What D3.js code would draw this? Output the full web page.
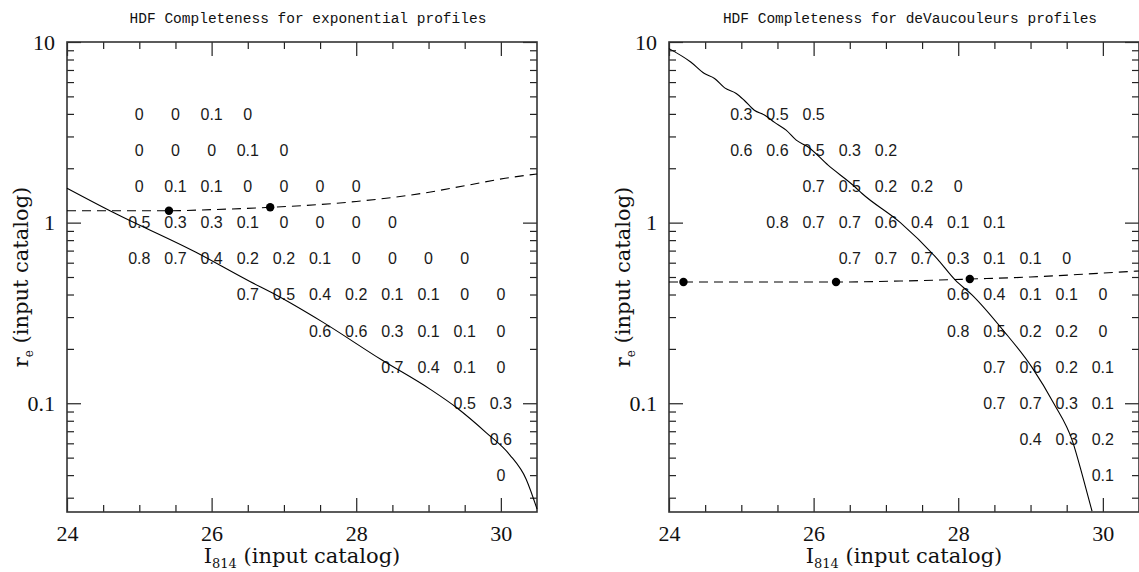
<!DOCTYPE html>
<html>
<head>
<meta charset="utf-8">
<script src="https://cdn.jsdelivr.net/npm/d3@7"></script>
<style>
  body { margin: 0; background: #fff; }
  svg { display: block; }
</style>
</head>
<body>
<div id="viz"></div>
<script>
// ---- data ----
// rows of the completeness grid, log10(r_e)
const logRadiusRows = [0.6, 0.4, 0.2, 0, -0.2, -0.4, -0.6, -0.8, -1.0, -1.2, -1.4];

// exponential profiles: first I814 column of each row, then the fractions
const expRowStart = [25, 25, 25, 25, 25, 26.5, 27.5, 28.5, 29.5, 30, 30];
const expValues = [
  [0, 0, 0.1, 0],
  [0, 0, 0, 0.1, 0],
  [0, 0.1, 0.1, 0, 0, 0, 0],
  [0.5, 0.3, 0.3, 0.1, 0, 0, 0, 0],
  [0.8, 0.7, 0.4, 0.2, 0.2, 0.1, 0, 0, 0, 0],
  [0.7, 0.5, 0.4, 0.2, 0.1, 0.1, 0, 0],
  [0.6, 0.6, 0.3, 0.1, 0.1, 0],
  [0.7, 0.4, 0.1, 0],
  [0.5, 0.3],
  [0.6],
  [0]
];

// deVaucouleurs profiles
const devRowStart = [25, 25, 26, 25.5, 26.5, 28, 28, 28.5, 28.5, 29, 30];
const devValues = [
  [0.3, 0.5, 0.5],
  [0.6, 0.6, 0.5, 0.3, 0.2],
  [0.7, 0.5, 0.2, 0.2, 0],
  [0.8, 0.7, 0.7, 0.6, 0.4, 0.1, 0.1],
  [0.7, 0.7, 0.7, 0.3, 0.1, 0.1, 0],
  [0.6, 0.4, 0.1, 0.1, 0],
  [0.8, 0.5, 0.2, 0.2, 0],
  [0.7, 0.6, 0.2, 0.1],
  [0.7, 0.7, 0.3, 0.1],
  [0.4, 0.3, 0.2],
  [0.1]
];

// solid curves [I814, r_e]
const expLimitCurve = [
  [24, 1.55], [24.6, 1.16], [25.77, 0.69], [26.53, 0.472], [26.88, 0.40],
  [27.52, 0.284], [28.35, 0.174], [29.03, 0.119], [29.39, 0.0944],
  [29.8, 0.0686], [30.12, 0.052], [30.35, 0.038], [30.5, 0.026]
];
const devLimitCurve = [
  [24, 9.19], [24.30, 7.75], [24.49, 6.69], [24.63, 6.28], [24.77, 5.57],
  [24.93, 5.19], [25.04, 4.76], [25.18, 4.19], [25.32, 3.94], [25.46, 3.59],
  [25.62, 3.25], [25.76, 2.86], [25.92, 2.63], [26.2, 2.08], [26.57, 1.58],
  [26.67, 1.45], [27.2, 1.0], [27.71, 0.63], [27.96, 0.48], [28.19, 0.398],
  [28.63, 0.251], [29.02, 0.158], [29.32, 0.1], [29.58, 0.0617],
  [29.72, 0.0395], [29.85, 0.0253]
];

// dashed curves and their dots
const expSizeCurve = [
  [24, 1.164], [25.41, 1.164], [26, 1.18], [26.81, 1.216], [27.5, 1.26],
  [28, 1.31], [28.9, 1.45], [29.5, 1.6], [30.06, 1.76], [30.5, 1.86]
];
const expSizePoints = [[25.41, 1.164], [26.81, 1.216]];
const devSizeCurve = [
  [24, 0.469], [24.2, 0.469], [26.31, 0.469], [27.2, 0.475], [28.16, 0.487],
  [29, 0.50], [29.8, 0.52], [30.5, 0.54]
];
const devSizePoints = [[24.2, 0.469], [26.31, 0.469], [28.16, 0.487]];

// ticks
const xMajorTicks = [24, 26, 28, 30];
const xMinorTicks = [24.5, 25, 25.5, 26.5, 27, 27.5, 28.5, 29, 29.5];
const yMajorTicks = [0.1, 1, 10];
const yMinorTicks = [0.03, 0.04, 0.05, 0.06, 0.07, 0.08, 0.09,
  0.2, 0.3, 0.4, 0.5, 0.6, 0.7, 0.8, 0.9,
  2, 3, 4, 5, 6, 7, 8, 9];

const titles = [
  'HDF Completeness for exponential profiles',
  'HDF Completeness for deVaucouleurs profiles'
];

// ---- layout ----
const config = {
  fullWidth: 1139,
  fullHeight: 572,
  top: 42,
  width: 470,
  height: 470,
  panelLefts: [67, 669]
};

const svg = d3.select('#viz').append('svg')
  .attr('width', config.fullWidth)
  .attr('height', config.fullHeight);

const x = d3.scaleLinear().domain([24, 30.5]).range([0, config.width]);
const y = d3.scaleLog().domain([0.025, 10]).range([config.height, 0]);

function styleAxis(sel) {
  sel.select('.domain').remove();
  sel.selectAll('line').attr('stroke', '#222').attr('stroke-width', 1.2);
  sel.selectAll('text')
    .attr('fill', '#111')
    .style('font-family', '"Liberation Serif", "Times New Roman", serif')
    .style('font-size', '22px');
}

function drawPanel(left, title, rowStart, values, limitCurve, sizeCurve, sizePoints) {
  const g = svg.append('g')
    .attr('transform', `translate(${left}, ${config.top})`);

  // axes: major + minor, ticks pointing inwards on all four sides
  g.append('g').attr('transform', `translate(0, ${config.height})`)
    .call(d3.axisBottom(x).tickValues(xMajorTicks).tickSize(-14).tickSizeOuter(0)
      .tickPadding(13).tickFormat(d3.format('d')))
    .call(styleAxis);
  g.append('g').attr('transform', `translate(0, ${config.height})`)
    .call(d3.axisBottom(x).tickValues(xMinorTicks).tickSize(-7).tickSizeOuter(0).tickFormat(''))
    .call(styleAxis);
  g.append('g')
    .call(d3.axisTop(x).tickValues(xMajorTicks).tickSize(-14).tickSizeOuter(0).tickFormat(''))
    .call(styleAxis);
  g.append('g')
    .call(d3.axisTop(x).tickValues(xMinorTicks).tickSize(-7).tickSizeOuter(0).tickFormat(''))
    .call(styleAxis);

  g.append('g')
    .call(d3.axisLeft(y).tickValues(yMajorTicks).tickSize(-14).tickSizeOuter(0)
      .tickPadding(12).tickFormat(d => String(d)))
    .call(styleAxis);
  g.append('g')
    .call(d3.axisLeft(y).tickValues(yMinorTicks).tickSize(-7).tickSizeOuter(0).tickFormat(''))
    .call(styleAxis);
  g.append('g').attr('transform', `translate(${config.width}, 0)`)
    .call(d3.axisRight(y).tickValues(yMajorTicks).tickSize(-14).tickSizeOuter(0).tickFormat(''))
    .call(styleAxis);
  g.append('g').attr('transform', `translate(${config.width}, 0)`)
    .call(d3.axisRight(y).tickValues(yMinorTicks).tickSize(-7).tickSizeOuter(0).tickFormat(''))
    .call(styleAxis);

  // frame
  g.append('rect')
    .attr('width', config.width)
    .attr('height', config.height)
    .attr('fill', 'none')
    .attr('stroke', '#333')
    .attr('stroke-width', 1.6);

  // completeness grid
  const cells = d3.merge(values.map((row, i) =>
    row.map((v, j) => ({ mag: rowStart[i] + 0.5 * j, r: Math.pow(10, logRadiusRows[i]), v }))));

  g.append('g').selectAll('text')
    .data(cells)
    .join('text')
    .attr('x', d => x(d.mag))
    .attr('y', d => y(d.r))
    .attr('text-anchor', 'middle')
    .attr('dominant-baseline', 'central')
    .attr('fill', '#1a1a1a')
    .style('font-family', '"Liberation Sans", Arial, sans-serif')
    .style('font-size', '16px')
    .text(d => String(d.v));

  const line = d3.line()
    .x(d => x(d[0]))
    .y(d => y(d[1]))
    .curve(d3.curveMonotoneX);

  g.append('path')
    .datum(limitCurve)
    .attr('d', line)
    .attr('fill', 'none')
    .attr('stroke', '#000')
    .attr('stroke-width', 1.1);

  g.append('path')
    .datum(sizeCurve)
    .attr('d', line)
    .attr('fill', 'none')
    .attr('stroke', '#000')
    .attr('stroke-width', 1.1)
    .attr('stroke-dasharray', '9,6');

  g.append('g').selectAll('circle')
    .data(sizePoints)
    .join('circle')
    .attr('cx', d => x(d[0]))
    .attr('cy', d => y(d[1]))
    .attr('r', 4.2)
    .attr('fill', '#000');

  // title
  g.append('text')
    .attr('x', config.width / 2 + 6)
    .attr('y', -19)
    .attr('text-anchor', 'middle')
    .attr('fill', '#111')
    .style('font-family', '"Liberation Mono", "Courier New", monospace')
    .style('font-size', '14.5px')
    .text(title);

  // x axis title: I_814 (input catalog)
  const xt = g.append('text')
    .attr('x', config.width / 2)
    .attr('y', config.height + 51)
    .attr('text-anchor', 'middle')
    .attr('fill', '#111')
    .style('font-family', '"DejaVu Serif", serif')
    .style('font-size', '21px');
  xt.append('tspan').text('I');
  xt.append('tspan').attr('dy', 5).style('font-size', '13px').text('814');
  xt.append('tspan').attr('dy', -5).text(' (input catalog)');

  // y axis title: r_e (input catalog)
  const yt = g.append('text')
    .attr('transform', `translate(-39, ${config.height / 2}) rotate(-90)`)
    .attr('text-anchor', 'middle')
    .attr('fill', '#111')
    .style('font-family', '"DejaVu Serif", serif')
    .style('font-size', '21px');
  yt.append('tspan').text('r');
  yt.append('tspan').attr('dy', 5).style('font-size', '12px').text('e');
  yt.append('tspan').attr('dy', -5).text('  (input catalog)');
}

drawPanel(config.panelLefts[0], titles[0], expRowStart, expValues,
  expLimitCurve, expSizeCurve, expSizePoints);
drawPanel(config.panelLefts[1], titles[1], devRowStart, devValues,
  devLimitCurve, devSizeCurve, devSizePoints);
</script>
</body>
</html>
